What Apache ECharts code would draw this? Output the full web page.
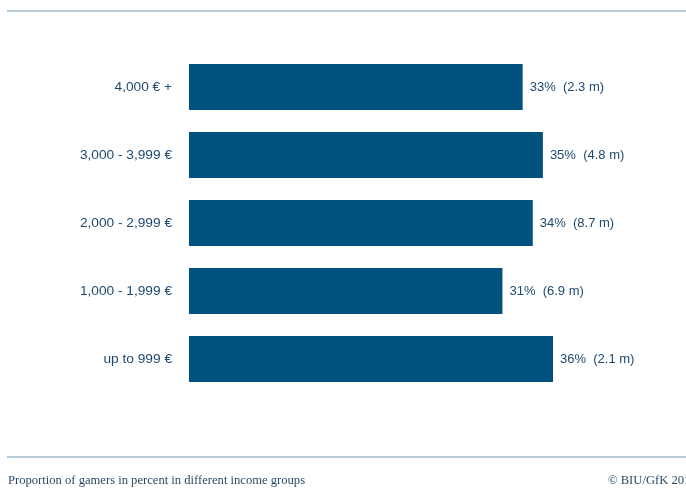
<!DOCTYPE html>
<html>
<head>
<meta charset="utf-8">
<script src="https://cdn.jsdelivr.net/npm/echarts@6/dist/echarts.min.js"></script>
<style>
  html, body { margin: 0; padding: 0; background: #ffffff; }
  #chart { width: 686px; height: 488px; }
</style>
</head>
<body>
<div id="chart"></div>
<script>
// Income groups, top to bottom as drawn
const incomeGroups = ['4,000 € +', '3,000 - 3,999 €', '2,000 - 2,999 €', '1,000 - 1,999 €', 'up to 999 €'];
// Share of gamers per group (percent)
const gamerShare = [33, 35, 34, 31, 36];
// Number of gamers per group (millions)
const gamerMillions = ['2.3', '4.8', '8.7', '6.9', '2.1'];

const footerText = 'Proportion of gamers in percent in different income groups';
const sourceText = '© BIU/GfK 2013';

const chart = echarts.init(document.getElementById('chart'), null, { renderer: 'canvas' });

chart.setOption({
  animation: false,
  backgroundColor: '#ffffff',
  grid: { left: 189, right: 133, top: 53, height: 340 },
  xAxis: {
    type: 'value', min: 0, max: 36,
    show: false
  },
  yAxis: {
    type: 'category',
    inverse: true,
    data: incomeGroups,
    axisLine: { show: false },
    axisTick: { show: false },
    axisLabel: {
      margin: 17,
      color: '#1e4a70',
      fontFamily: 'Liberation Sans, Arial, sans-serif',
      fontSize: 13.7
    }
  },
  series: [{
    type: 'bar',
    data: gamerShare,
    barWidth: 46,
    itemStyle: { color: '#02527f' },
    label: {
      show: true,
      position: 'right',
      distance: 7,
      color: '#1e4a70',
      fontFamily: 'Liberation Sans, Arial, sans-serif',
      fontSize: 13,
      formatter: p => p.value + '%  (' + gamerMillions[p.dataIndex] + ' m)'
    }
  }],
  graphic: [
    { type: 'line', shape: { x1: 7, y1: 11, x2: 686, y2: 11 }, style: { stroke: '#9db7c9', lineWidth: 1.5 } },
    { type: 'line', shape: { x1: 7, y1: 457, x2: 686, y2: 457 }, style: { stroke: '#9db7c9', lineWidth: 1.5 } },
    { type: 'text', left: 8, top: 474, style: { text: footerText, fill: '#2c4a68', font: '12.6px "Liberation Serif", "DejaVu Serif", serif' } },
    { type: 'text', x: 608, y: 474, style: { text: sourceText, fill: '#2c4a68', font: '12.6px "Liberation Serif", "DejaVu Serif", serif' } }
  ]
});
</script>
</body>
</html>
